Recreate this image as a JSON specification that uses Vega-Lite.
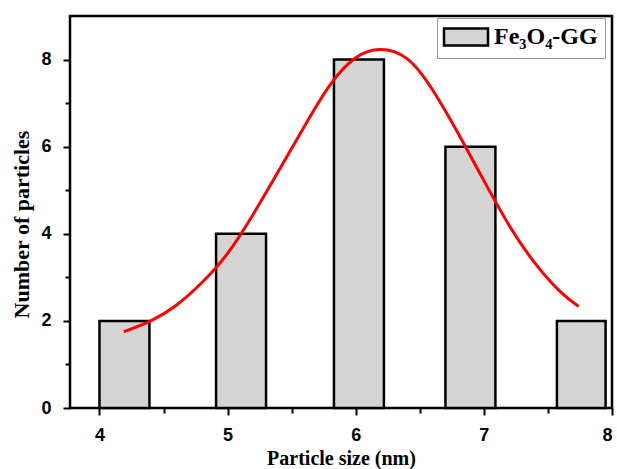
{
  "$schema": "https://vega.github.io/schema/vega-lite/v6.json",
  "width": 542,
  "height": 392,
  "autosize": {"type": "none"},
  "padding": {"left": 70, "top": 16, "right": 5, "bottom": 61},
  "background": "white",
  "config": {
    "view": {"stroke": "black", "strokeWidth": 2.5},
    "axis": {
      "domain": false,
      "grid": false,
      "tickColor": "black",
      "tickWidth": 2,
      "labelFont": "Liberation Sans",
      "labelFontWeight": "bold",
      "labelFontSize": 18,
      "labelColor": "black",
      "titleFont": "Liberation Serif",
      "titleFontWeight": "bold",
      "titleColor": "black"
    }
  },
  "layer": [
    {
      "data": {
        "values": [
          {"x0": 4.0, "x1": 4.39, "count": 2, "series": "Fe₃O₄-GG"},
          {"x0": 4.91, "x1": 5.30, "count": 4, "series": "Fe₃O₄-GG"},
          {"x0": 5.83, "x1": 6.22, "count": 8, "series": "Fe₃O₄-GG"},
          {"x0": 6.70, "x1": 7.09, "count": 6, "series": "Fe₃O₄-GG"},
          {"x0": 7.57, "x1": 7.95, "count": 2, "series": "Fe₃O₄-GG"}
        ]
      },
      "mark": {"type": "rect", "stroke": "black", "strokeWidth": 2.5},
      "encoding": {
        "x": {
          "field": "x0",
          "type": "quantitative",
          "title": "Particle size (nm)",
          "scale": {"domain": [3.77, 8.0], "nice": false, "zero": false},
          "axis": {
            "values": [4, 4.5, 5, 5.5, 6, 6.5, 7, 7.5, 8],
            "labelExpr": "datum.value % 1 === 0 ? format(datum.value, 'd') : ''",
            "tickSize": {"condition": {"test": "datum.value % 1 === 0", "value": 7}, "value": 5},
            "labelPadding": 11,
            "titleFontSize": 20,
            "titlePadding": 4
          }
        },
        "x2": {"field": "x1"},
        "y": {
          "field": "count",
          "type": "quantitative",
          "title": "Number of particles",
          "scale": {"domain": [0, 9], "nice": false, "zero": true},
          "axis": {
            "values": [0, 1, 2, 3, 4, 5, 6, 7, 8],
            "labelExpr": "datum.value % 2 === 0 ? format(datum.value, 'd') : ''",
            "tickSize": {"condition": {"test": "datum.value % 2 === 0", "value": 7}, "value": 5},
            "labelPadding": 12,
            "titleFontSize": 22,
            "titlePadding": 7,
            "titleY": 208
          }
        },
        "y2": {"datum": 0},
        "fill": {
          "field": "series",
          "type": "nominal",
          "scale": {"range": ["#d4d4d4"]},
          "legend": {
            "title": null,
            "orient": "none",
            "legendX": 367,
            "legendY": 2,
            "padding": 7,
            "strokeColor": "#999999",
            "fillColor": "white",
            "symbolType": "M-2.588,-1L2.588,-1L2.588,1L-2.588,1Z",
            "symbolSize": 289,
            "symbolOffset": 10,
            "symbolStrokeColor": "black",
            "symbolStrokeWidth": 2.5,
            "symbolFillColor": "#d4d4d4",
            "labelFont": "Liberation Serif",
            "labelFontWeight": "bold",
            "labelFontSize": 24,
            "labelColor": "black",
            "labelOffset": 16,
            "labelExpr": "datum.label + '  '"
          }
        }
      }
    },
    {
      "data": {
        "values": [
          {"size": 4.19, "n": 1.75},
          {"size": 4.40, "n": 2.00},
          {"size": 4.60, "n": 2.36},
          {"size": 4.80, "n": 2.88},
          {"size": 5.00, "n": 3.55},
          {"size": 5.20, "n": 4.45},
          {"size": 5.40, "n": 5.45},
          {"size": 5.60, "n": 6.47},
          {"size": 5.80, "n": 7.42},
          {"size": 6.00, "n": 8.04},
          {"size": 6.19, "n": 8.23},
          {"size": 6.40, "n": 8.02},
          {"size": 6.60, "n": 7.30},
          {"size": 6.80, "n": 6.30},
          {"size": 7.00, "n": 5.22},
          {"size": 7.20, "n": 4.18},
          {"size": 7.40, "n": 3.32},
          {"size": 7.60, "n": 2.66},
          {"size": 7.74, "n": 2.33}
        ]
      },
      "mark": {"type": "line", "color": "#ff0000", "strokeWidth": 3, "interpolate": "natural"},
      "encoding": {
        "x": {"field": "size", "type": "quantitative"},
        "y": {"field": "n", "type": "quantitative"}
      }
    }
  ]
}
